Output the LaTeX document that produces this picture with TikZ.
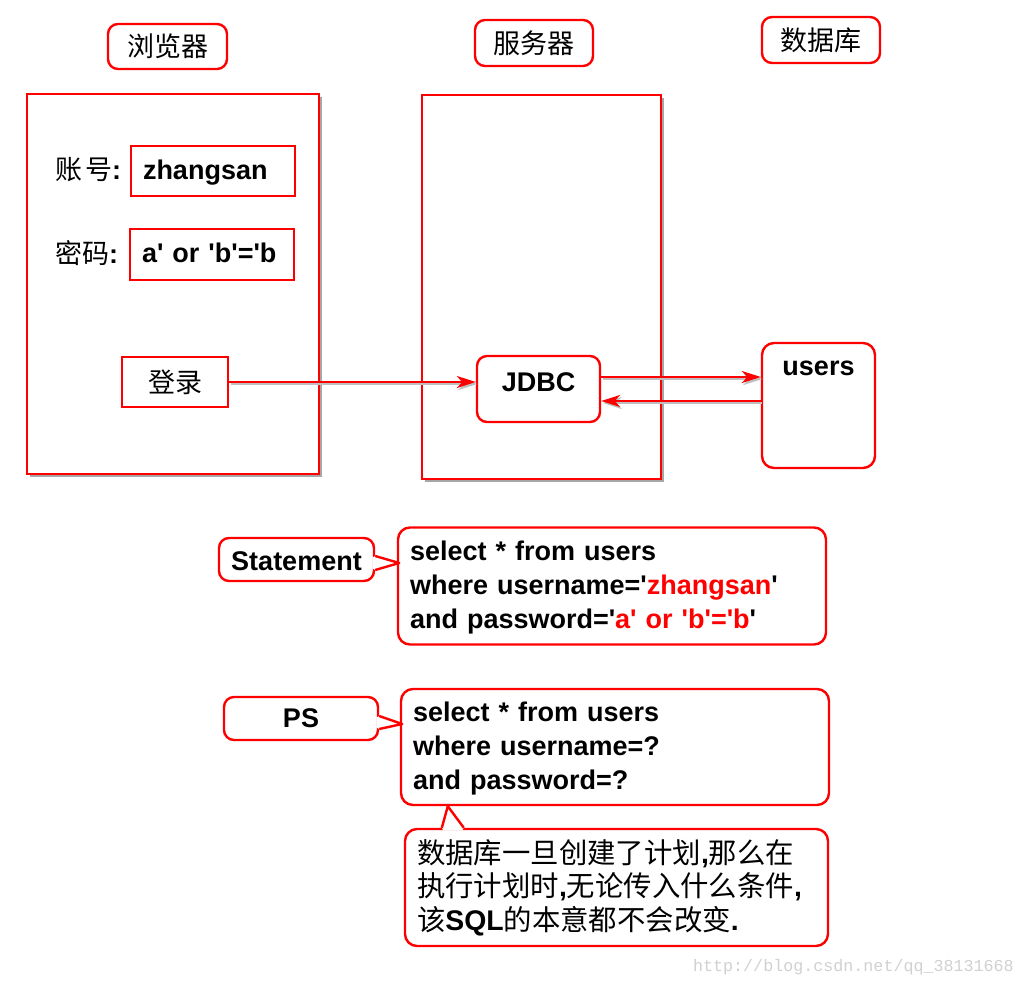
\documentclass[tikz,border=0pt]{standalone}
\usepackage{fontspec}
\newfontfamily\ar{Liberation Sans}
\newfontfamily\cjk{Noto Sans CJK SC}
\newfontfamily\mono{Liberation Mono}
\usetikzlibrary{arrows.meta,shadows,calc}
\definecolor{rd}{RGB}{255,0,0}
\tikzset{
  box/.style={draw=rd, line width=2.4pt, fill=white, inner sep=0pt},
  rbox/.style={box, rounded corners=10pt},
  lat/.style={font=\ar\bfseries\fontsize{27}{34}\selectfont},
  zh/.style={font=\cjk\fontsize{27}{34}\selectfont},
  redline/.style={draw=rd, line width=2.4pt, line join=round},
  arr/.style={draw=rd, line width=2.2pt, -{Stealth[length=19pt,width=12pt,inset=5.5pt]}},
  frameshadow/.style={drop shadow={shadow xshift=3pt, shadow yshift=-3pt, fill=black, opacity=0.35}},
  arrshadow/.style={draw=black!25, line width=2.2pt, -{Stealth[length=19pt,width=12pt,inset=5.5pt]}, transform canvas={xshift=1.5pt, yshift=-2pt}},
  sqlbox/.style={box, rounded corners=12pt, lat, minimum width=428, text width=404pt, inner xsep=12pt, align=left, text height=23pt, text depth=73.7pt},
}
\begin{document}
\begin{tikzpicture}[x=1pt,y=-1pt]
\fill[white] (0,0) rectangle (1024,987);
\useasboundingbox (0,0) rectangle (1024,987);

% titles
\node[rbox, zh, minimum width=119, minimum height=45] (browser) at (167.5,46.5) {浏览器};
\node[rbox, zh, minimum width=118, minimum height=46] (server) at (534,43) {服务器};
\node[rbox, zh, minimum width=118, minimum height=46] (db) at (821,40) {数据库};

% frames
\node[box, frameshadow, minimum width=292, minimum height=380] (bframe) at (173,284) {};
\node[box, frameshadow, minimum width=239, minimum height=384] (sframe) at (541.5,287) {};

% browser content
\node[zh, anchor=west, inner sep=0pt] (lacct) at (55,170) {账\hspace{3pt}号{\ar\bfseries :}};
\node[box, lat, minimum height=50, text width=140pt, inner xsep=12pt, align=left, text height=20pt, text depth=4pt] (acct) at (213,171) {zhangsan};
\node[zh, anchor=west, inner sep=0pt] (lpwd) at (55,253) {密码{\ar\bfseries :}};
\node[box, lat, minimum height=51, text width=140pt, inner xsep=12pt, align=left, text height=20pt, text depth=4pt] (pwd) at (212,254.5) {a' or 'b'='b};
\node[box, zh, minimum width=106, minimum height=50] (login) at (175,382) {登录};

% server / db
\node[box, rounded corners=10pt, lat, minimum width=123, minimum height=66, text height=20pt, text depth=16pt] (jdbc) at (538.5,389) {JDBC};
\node[box, rounded corners=12pt, lat, minimum width=113, minimum height=125, text height=20pt, text depth=81pt] (users) at (818.5,405.5) {users};

% arrows
\coordinate (j1) at ([yshift=12pt]jdbc.east);
\coordinate (j2) at ([yshift=-12pt]jdbc.east);
\draw[arrshadow] (login.east) -- (login.east -| jdbc.west);
\draw[arrshadow] (j1) -- (j1 -| users.west);
\draw[arrshadow] (j2 -| users.west) -- (j2);
\draw[arr] (login.east) -- (login.east -| jdbc.west);
\draw[arr] (j1) -- (j1 -| users.west);
\draw[arr] (j2 -| users.west) -- (j2);

% Statement
\node[rbox, lat, minimum width=155, minimum height=43, text height=21pt, text depth=0pt] (stmt) at (296.5,559.5) {Statement};
\node[sqlbox, minimum height=117] (sql1) at (612,586)
  {select * from users\\where username='{\color{rd}zhangsan}'\\and password='{\color{rd}a' or 'b'='b}'};
\coordinate (s1) at ($(stmt.east)+(0,-3.5)$);
\coordinate (s2) at ($(stmt.east)+(0,10.5)$);
\coordinate (st) at ($(stmt.east)+(24,3.5)$);
\fill[white] ($(s1)+(-2.5,1.4)$) -- (s1) -- (st) -- (s2) -- ($(s2)+(-2.5,-1.4)$) -- cycle;
\draw[redline] (s1) -- (st) -- (s2);

% PS
\node[rbox, lat, minimum width=154, minimum height=43] (ps) at (301,718.5) {PS};
\node[sqlbox, minimum height=116] (sql2) at (615,747)
  {select * from users\\where username=?\\and password=?};
\coordinate (p1) at ($(ps.east)+(0,-2.5)$);
\coordinate (p2) at ($(ps.east)+(0,10.5)$);
\coordinate (pt) at ($(ps.east)+(23,5.5)$);
\fill[white] ($(p1)+(-2.5,1.4)$) -- (p1) -- (pt) -- (p2) -- ($(p2)+(-2.5,-1.4)$) -- cycle;
\draw[redline] (p1) -- (pt) -- (p2);

% note
\node[box, rounded corners=12pt, font=\cjk\fontsize{28.4}{33.5}\selectfont, minimum width=423, minimum height=117, text width=399pt, inner xsep=12pt, align=left] (note) at (616.5,887.5)
  {数据库一旦创建了计划{\ar\bfseries ,}那么在\\执行计划时{\ar\bfseries ,}无论传入什么条件{\ar\bfseries ,}\\该{\ar\bfseries SQL}的本意都不会改变{\ar\bfseries .}};
\coordinate (nl) at ($(note.north west)+(38,0)$);
\coordinate (nr) at ($(note.north west)+(60,0)$);
\coordinate (nt) at ($(sql2.south west)+(48,0)$);
\fill[white] ($(nl)+(1.4,2.5)$) -- (nl) -- (nt) -- (nr) -- ($(nr)+(-1.4,2.5)$) -- cycle;
\draw[redline] (nl) -- (nt) -- (nr);

% watermark
\node[font=\mono\fontsize{16.7}{20}\selectfont, text=black!18, anchor=east, inner sep=0pt] (wm) at (1014,967) {http://blog.csdn.net/qq\_38131668};
\end{tikzpicture}
\end{document}
